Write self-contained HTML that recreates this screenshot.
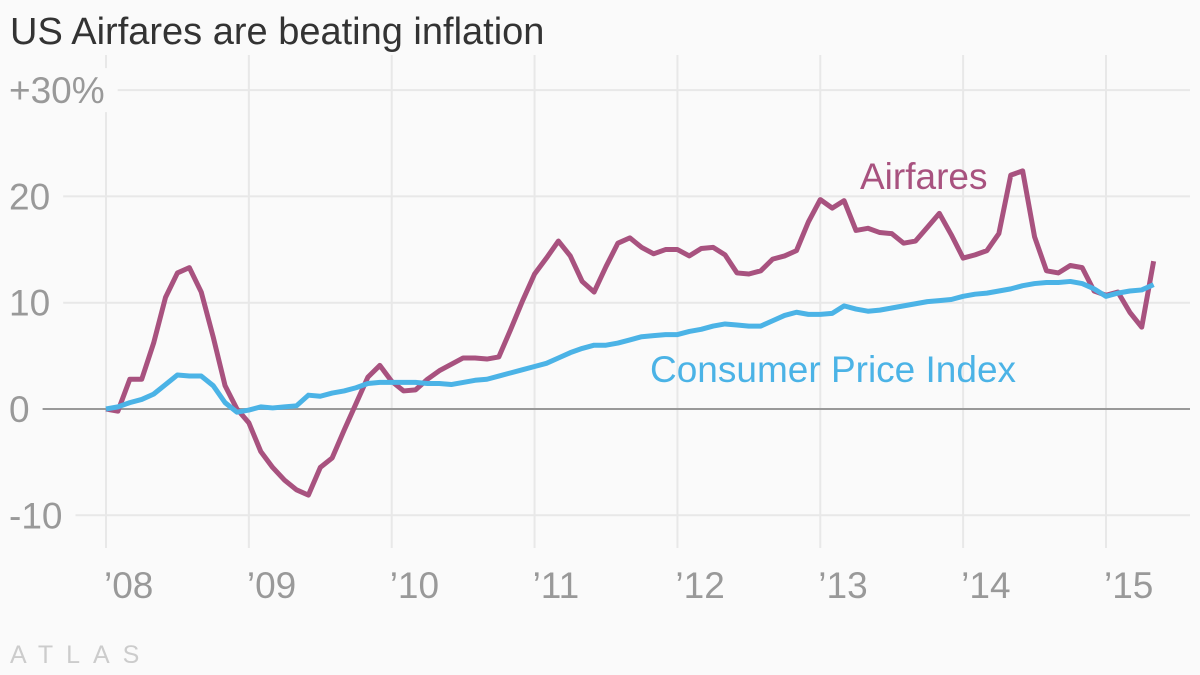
<!DOCTYPE html>
<html><head><meta charset="utf-8"><style>
body{margin:0;background:#fafafa;}
svg{display:block;font-family:"Liberation Sans",sans-serif;}
</style></head><body>
<svg width="1200" height="675" viewBox="0 0 1200 675">
<rect width="1200" height="675" fill="#fafafa"/>
<text x="10" y="44" font-size="38" fill="#333">US Airfares are beating inflation</text>
<g id="grid"></g><g id="lines"></g>
<text x="860" y="189" font-size="37" fill="#a8527f">Airfares</text>
<text x="650" y="382" font-size="37" fill="#4bb3e6">Consumer Price Index</text>
<text x="10" y="663" font-size="25" fill="#ccc" letter-spacing="13">ATLAS</text>
</svg>
<script>
const yTicks=[-10,0,10,20,30];
const yTickLabels=["-10","0","10","20","+30%"];
const xYears=[2008,2009,2010,2011,2012,2013,2014,2015];
const xTickLabels=["'08","'09","'10","'11","'12","'13","'14","'15"];
const airfares=[0,-0.2,2.8,2.8,6.2,10.5,12.8,13.3,11,6.8,2.2,0,
-1.3,-4,-5.5,-6.7,-7.6,-8.1,-5.5,-4.6,-2,0.5,3,4.1,
2.6,1.7,1.8,2.8,3.6,4.2,4.8,4.8,4.7,4.9,7.5,10.2,
12.7,14.2,15.8,14.4,12,11,13.4,15.6,16.1,15.2,14.6,15,
15,14.4,15.1,15.2,14.5,12.8,12.7,13,14.1,14.4,14.9,17.6,
19.7,18.9,19.6,16.8,17,16.6,16.5,15.6,15.8,17.1,18.4,16.4,
14.2,14.5,14.9,16.5,22,22.4,16.2,13,12.8,13.5,13.3,11.1,
10.7,11,9.1,7.7,13.9];
const cpi=[0,0.2,0.6,0.9,1.4,2.3,3.2,3.1,3.1,2.2,0.6,-0.3,
-0.1,0.2,0.1,0.2,0.3,1.3,1.2,1.5,1.7,2.0,2.4,2.5,
2.5,2.5,2.5,2.4,2.4,2.3,2.5,2.7,2.8,3.1,3.4,3.7,
4.0,4.3,4.8,5.3,5.7,6.0,6.0,6.2,6.5,6.8,6.9,7.0,
7.0,7.3,7.5,7.8,8.0,7.9,7.8,7.8,8.3,8.8,9.1,8.9,
8.9,9.0,9.7,9.4,9.2,9.3,9.5,9.7,9.9,10.1,10.2,10.3,
10.6,10.8,10.9,11.1,11.3,11.6,11.8,11.9,11.9,12.0,11.8,11.3,
10.6,10.9,11.1,11.2,11.7];
const NS="http://www.w3.org/2000/svg";
const x=m=>106+m*(1000/84);
const xy=yr=>x((yr-2008)*12);
const y=v=>409-v*10.63;
const grid=document.getElementById('grid'),lines=document.getElementById('lines');
function mk(tag,attrs,parent){const e=document.createElementNS(NS,tag);for(const k in attrs)e.setAttribute(k,attrs[k]);parent.appendChild(e);return e;}
xYears.forEach((yr,i)=>{
 const l=mk('line',{x1:xy(yr),x2:xy(yr),y1:55,y2:548,stroke:'#e8e8e8','stroke-width':2},grid);
 
 
 const tx=mk('text',{x:xy(yr)-2,y:598,'font-size':37,fill:'#999'},grid);
 tx.textContent=xTickLabels[i].replace("'","\u2019");
 
 
});
yTicks.forEach((t,i)=>{
 const tx=mk('text',{x:9,y:y(t)+13,'font-size':37,fill:'#999'},grid);
 tx.textContent=yTickLabels[i];
 
 
 const w=tx.getComputedTextLength();
 const bg=mk('rect',{x:0,y:y(t)-22,width:w+22,height:44,fill:'#fafafa'},grid);
 grid.insertBefore(bg,tx);
 
 
 const l=mk('line',{x1:w+22,x2:1190,y1:y(t),y2:y(t),stroke:t===0?'#999':'#e8e8e8','stroke-width':2},grid);
 
 
});
function series(data,color,name){
 const p=mk('polyline',{points:data.map((v,i)=>x(i)+','+y(v)).join(' '),fill:'none',stroke:color,'stroke-width':5,'stroke-linejoin':'round'},lines);
 
 
}
series(airfares,'#a8527f','airfares-line');
series(cpi,'#4bb3e6','cpi-line');
</script>
</body></html>
